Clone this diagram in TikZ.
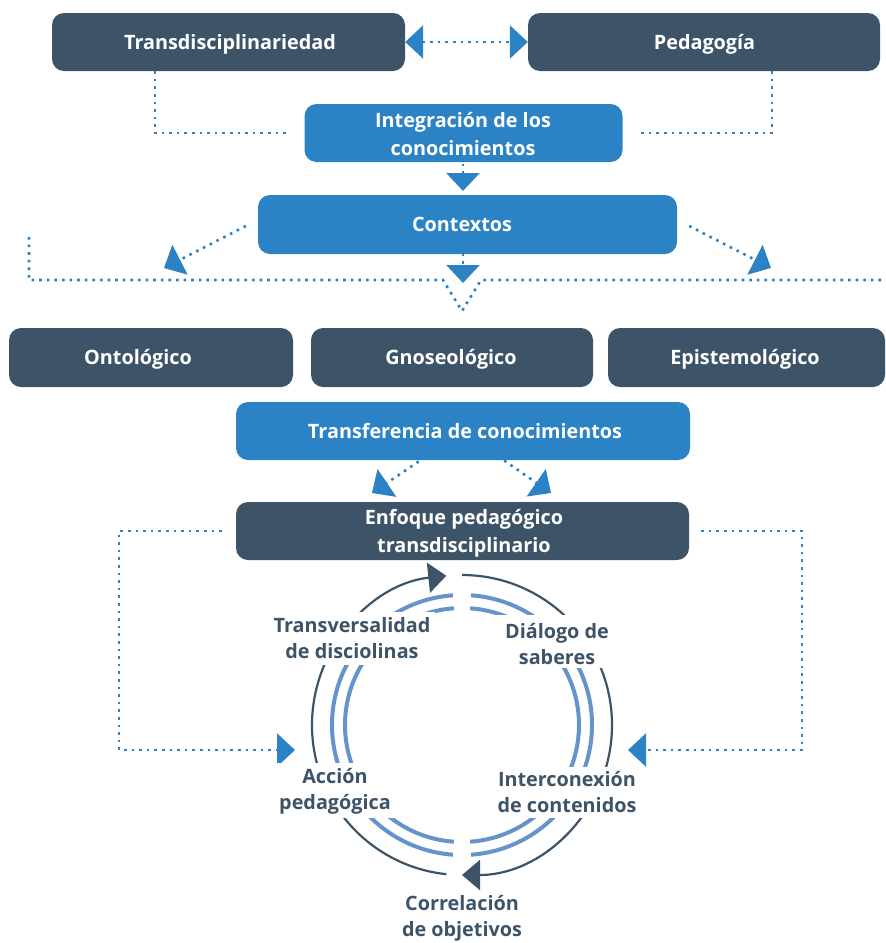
\documentclass[tikz,border=0pt]{standalone}
\usepackage{fontspec}
\setmainfont{Open Sans}
\usetikzlibrary{arrows.meta}
\definecolor{dk}{HTML}{3D5468}
\definecolor{bl}{HTML}{2B82C5}
\definecolor{rb}{HTML}{6593CB}
\begin{document}
\begin{tikzpicture}[x=1pt,y=-1pt,
  boxbase/.style={rounded corners=12pt, inner sep=0pt, minimum height=58pt},
  dkbox/.style={boxbase, fill=dk},
  blbox/.style={boxbase, fill=bl},
  boxtext/.style={text=white, font=\fontsize{19.8}{28}\selectfont\bfseries, align=center, inner sep=0pt},
  onetext/.style={boxtext, text height=14pt, text depth=0pt},
  dotline/.style={draw=bl, line width=2.6pt, dash pattern=on 2.6pt off 5pt},
  >={Triangle[length=18pt,width=33pt]},
  ringlabel/.style={text=dk, font=\fontsize{19.8}{26}\selectfont\bfseries, align=center, inner sep=0pt},
  ringline/.style={draw=dk, line width=2.2pt},
  blring/.style={draw=rb, line width=4pt}
]
\useasboundingbox (0,0) rectangle (886,943);

% ---- boxes
\node[dkbox, minimum width=353pt] (trans) at (228.5,42) {};
\node[onetext] (transT) at (230,42) {Transdisciplinariedad};
\node[dkbox, minimum width=352pt] (ped) at (704,42) {};
\node[onetext] (pedT) at (704.5,42) {Pedagogía};
\node[blbox, minimum width=318pt] (int) at (463.5,133) {};
\node[boxtext] (intT) at (463,134) {Integración de los\\conocimientos};
\node[blbox, minimum width=419pt, minimum height=59pt] (ctx) at (467.5,224.5) {};
\node[onetext] (ctxT) at (462,224.5) {Contextos};
\node[dkbox, minimum width=284pt, minimum height=59pt] (onto) at (151,357.5) {};
\node[onetext] (ontoT) at (138,357.5) {Ontológico};
\node[dkbox, minimum width=282pt, minimum height=59pt] (gnos) at (452,357.5) {};
\node[onetext] (gnosT) at (451,357.5) {Gnoseológico};
\node[dkbox, minimum width=277pt, minimum height=59pt] (epis) at (746.5,357.5) {};
\node[onetext] (episT) at (745,357.5) {Epistemológico};
\node[blbox, minimum width=454pt] (transf) at (463,431) {};
\node[onetext] (transfT) at (465,431) {Transferencia de conocimientos};
\node[dkbox, minimum width=453pt] (enf) at (462.5,531) {};
\node[boxtext] (enfT) at (464,533) {Enfoque pedagógico\\transdisciplinario};

% ---- connectors top
\draw[dotline, <->] (trans.east) -- (ped.west);
\draw[dotline] ([xshift=-73.5pt]trans.south) |- ([xshift=-14pt]int.west);
\draw[dotline] ([xshift=68pt]ped.south) |- ([xshift=14pt]int.east);
\coordinate (intTip) at (463,191);
\draw[dotline, ->] ([yshift=6pt]int.south -| intTip) -- (intTip);

% ---- contextos branches
\coordinate (lTip) at (164,268);
\coordinate (rTip) at (771,268);
\coordinate (cTip) at (463,283);
\draw[dotline, ->] ([xshift=-12pt,yshift=-1.5pt]ctx.west) -- (lTip);
\draw[dotline, ->] ([xshift=12pt,yshift=-1.5pt]ctx.east) -- (rTip);
\draw[dotline, ->] ([yshift=8pt]ctx.south -| cTip) -- (cTip);
\coordinate (hL) at (29,237);
\coordinate (hLc) at (29,280);
\coordinate (vA) at (443,280);
\coordinate (vB) at (462,311);
\coordinate (vC) at (481,280);
\coordinate (hR) at (892,280);
\draw[dotline] (hL) -- (hLc) -- (vA) -- (vB) -- (vC) -- (hR);

% ---- transferencia to enfoque
\coordinate (tlTip) at (372,493);
\coordinate (trTip) at (551,493);
\draw[dotline, ->] ([xshift=-38pt,yshift=3pt]transf.south) -- (tlTip);
\draw[dotline, ->] ([xshift=35pt,yshift=4pt]transf.south) -- (trTip);

% ---- enfoque loops
\coordinate (elTip) at (295,750);
\coordinate (erTip) at (628,750);
\draw[dotline, ->] ([xshift=-14pt]enf.west) -| (119,750) -- (elTip);
\draw[dotline, ->] ([xshift=12pt]enf.east) -| (802,750) -- (erTip);

% ---- ring
\coordinate (C) at (462,725);
\draw[blring] (C) ++(94:130pt) arc[start angle=94, end angle=266, radius=130pt];
\draw[blring] (C) ++(94:117pt) arc[start angle=94, end angle=266, radius=117pt];
\draw[blring] (C) ++(86:130pt) arc[start angle=86, end angle=-86, radius=130pt];
\draw[blring] (C) ++(86:117pt) arc[start angle=86, end angle=-86, radius=117pt];
\draw[ringline, -{Triangle[length=18pt,width=30pt]}] (C) ++(90:150pt) arc[start angle=90, end angle=-90, radius=150pt];
\draw[ringline, -{Triangle[length=18pt,width=30pt]}] (C) ++(264:150pt) arc[start angle=264, end angle=96, radius=150pt];

% ---- ring labels
\node[fill=white, minimum width=170pt, minimum height=53pt, inner sep=0pt] (lab1bg) at (350,638.5) {};
\node[ringlabel] (lab1) at (352,638) {Transversalidad\\de disciolinas};
\node[fill=white, minimum width=122pt, minimum height=53pt, inner sep=0pt] (lab2bg) at (556,641.5) {};
\node[ringlabel] (lab2) at (557,644) {Diálogo de\\saberes};
\node[fill=white, minimum width=124pt, minimum height=55pt, inner sep=0pt] (lab3bg) at (335,790.5) {};
\node[ringlabel] (lab3) at (335,791) {Acción\\pedagógica};
\node[fill=white, minimum width=147pt, minimum height=51pt, inner sep=0pt] (lab4bg) at (566.5,792.5) {};
\node[ringlabel] (lab4) at (567,792) {Interconexión\\de contenidos};
\node[ringlabel] (lab5) at (462,918) {Correlación\\de objetivos};
\end{tikzpicture}
\end{document}
